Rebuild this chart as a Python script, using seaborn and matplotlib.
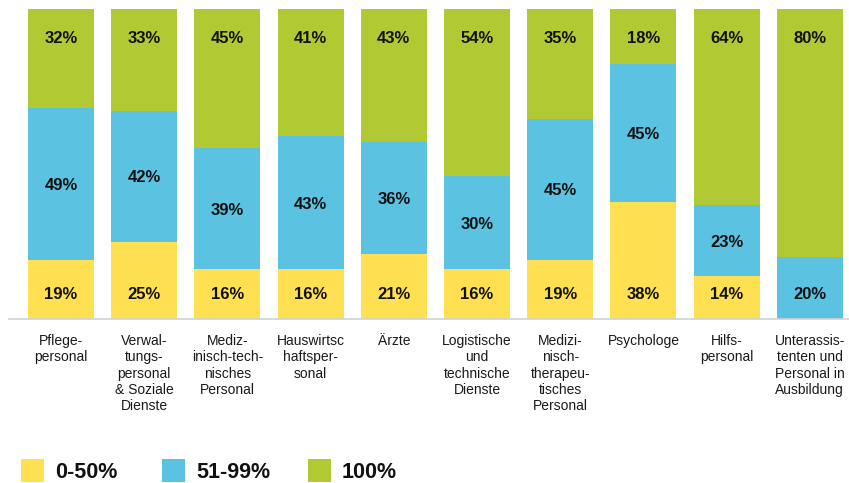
import numpy as np
import pandas as pd
import matplotlib
matplotlib.use("Agg")
import matplotlib.pyplot as plt
from matplotlib.patches import Rectangle
import seaborn as sns

# Staff groups and the share of employees in each working-time band (%)
categories = [
    "Pflege-\npersonal",
    "Verwal-\ntungs-\npersonal\n& Soziale\nDienste",
    "Mediz-\ninisch-tech-\nnisches\nPersonal",
    "Hauswirtsc\nhaftsper-\nsonal",
    "Ärzte",
    "Logistische\nund\ntechnische\nDienste",
    "Medizi-\nnisch-\ntherapeu-\ntisches\nPersonal",
    "Psychologe",
    "Hilfs-\npersonal",
    "Unterassis-\ntenten und\nPersonal in\nAusbildung",
]
share_0_50 = [19, 25, 16, 16, 21, 16, 19, 38, 14, 0]
share_51_99 = [49, 42, 39, 43, 36, 30, 45, 45, 23, 20]
share_100 = [32, 33, 45, 41, 43, 54, 35, 18, 64, 80]
legend_labels = ["0-50%", "51-99%", "100%"]

colors = ["#FFE052", "#5BC2E1", "#B1C933"]

sns.set_style("white")
plt.rcParams["font.family"] = ["Liberation Sans", "DejaVu Sans"]

df = pd.DataFrame({
    "group": categories,
    "low": share_0_50,
    "mid": share_51_99,
    "full": share_100,
})
total = df[["low", "mid", "full"]].sum(axis=1)
# 100 % stacked bars: cumulative tops of each band
df["top_low"] = df["low"] / total * 100
df["top_mid"] = (df["low"] + df["mid"]) / total * 100
df["top_full"] = (df["low"] + df["mid"] + df["full"]) / total * 100

W, H = 849, 483
fig = plt.figure(figsize=(W / 100, H / 100), dpi=100)
ax = fig.add_axes([9 / W, (H - 319) / H, 840 / W, 310 / H])

for col, c in zip(["top_full", "top_mid", "top_low"], colors[::-1]):
    sns.barplot(data=df, x="group", y=col, order=categories, color=c,
                saturation=1, width=0.793, linewidth=0, ax=ax)

ax.set_xlim(-0.625, 9.471)
ax.set_ylim(0, 100)
ax.set_xlabel("")
ax.set_ylabel("")
ax.set_yticks([])
for s in ["left", "right", "top"]:
    ax.spines[s].set_visible(False)
ax.spines["bottom"].set_color("#d2d2d2")
ax.spines["bottom"].set_linewidth(1.2)
ax.tick_params(axis="x", length=0, pad=11, labelsize=10, labelcolor="#1a1a1a")

# value labels: lowest band near the base, highest band near the top,
# bands in between at their centre
for i in range(len(df)):
    row = df.iloc[i]
    segs = []
    bottom = 0.0
    for val, top in zip([row["low"], row["mid"], row["full"]],
                        [row["top_low"], row["top_mid"], row["top_full"]]):
        if val > 0:
            segs.append((val, bottom, top))
        bottom = top
    for k, (val, b, t) in enumerate(segs):
        if k == 0:
            y = 8.4
        elif k == len(segs) - 1:
            y = 91.0
        else:
            y = (b + t) / 2
        ax.annotate(f"{int(val)}%", xy=(i, y), xytext=(0, -4.3),
                    textcoords="offset points", ha="center", va="baseline",
                    fontsize=12, fontweight="bold", color="#111111")

# legend row along the bottom edge
legend_x = [21, 162, 308]
for x0, lab, c in zip(legend_x, legend_labels, colors):
    fig.add_artist(Rectangle((x0 / W, 1 / H), 23 / W, 23 / H,
                             transform=fig.transFigure, facecolor=c,
                             edgecolor="none"))
    fig.text((x0 + 34) / W, 5 / H, lab, ha="left", va="baseline",
             fontsize=15.5, fontweight="bold", color="#111111")

fig.savefig("out.png", dpi=100)
